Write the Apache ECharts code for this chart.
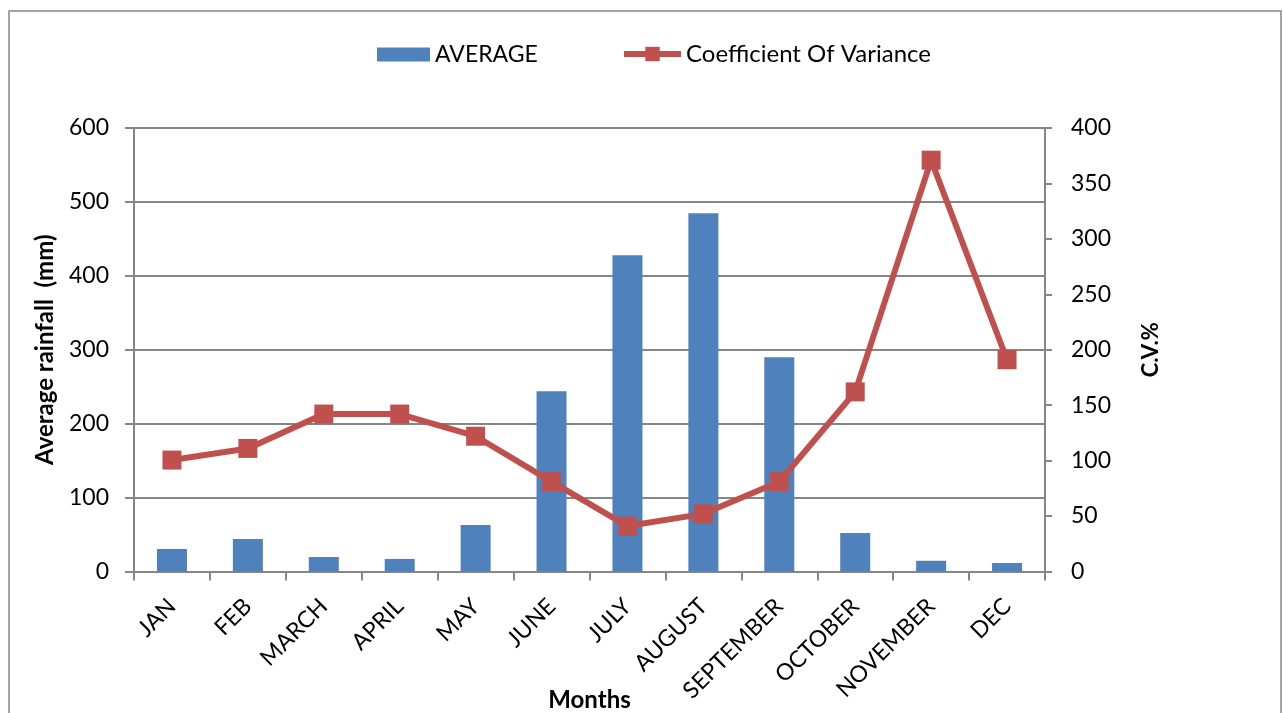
<!DOCTYPE html>
<html>
<head>
<meta charset="utf-8">
<script src="https://cdn.jsdelivr.net/npm/echarts@6/dist/echarts.min.js"></script>
<style>
  html, body { margin: 0; padding: 0; background: #fff; }
  #main { width: 1283px; height: 713px; }
</style>
</head>
<body>
<div id="main"></div>
<script>
// months on the x axis
var months = ['JAN', 'FEB', 'MARCH', 'APRIL', 'MAY', 'JUNE', 'JULY', 'AUGUST', 'SEPTEMBER', 'OCTOBER', 'NOVEMBER', 'DEC']
// average rainfall (mm), left axis
var average = [30.5, 44, 19.6, 17, 63, 244, 428, 484.5, 290, 52, 14.5, 11.5]
// coefficient of variance (%), right axis
var cv = [100.5, 111, 142, 142, 122, 81, 41, 52, 81, 162, 371, 191]

var axisGrey = '#868686'
var font = 'Lato, "Open Sans", sans-serif'

var chart = echarts.init(document.getElementById('main'))
var option = {
  backgroundColor: '#fff',
  animation: false,
  textStyle: { fontFamily: font },
  graphic: [
    {
      type: 'rect',
      shape: { x: 9, y: 11, width: 1272, height: 740 },
      style: { fill: 'none', stroke: axisGrey, lineWidth: 1.5 },
    },
  ],
  legend: [
    {
      left: 372,
      top: 38,
      itemWidth: 53,
      itemHeight: 14,
      itemGap: 6,
      icon: 'rect',
      textStyle: { fontSize: 23, color: '#000', fontFamily: font },
      data: ['AVERAGE'],
    },
    {
      left: 616,
      top: 37,
      itemWidth: 57,
      itemHeight: 18,
      lineStyle: { width: 6 },
      textStyle: { fontSize: 24, color: '#000', fontFamily: font },
      data: ['Coefficient Of Variance'],
    },
  ],
  grid: {
    left: 134,
    right: 1283 - 1045,
    top: 128,
    bottom: 713 - 571.5,
    containLabel: false,
    outerBoundsMode: 'none',
  },
  xAxis: {
    type: 'category',
    data: months,
    name: 'Months',
    nameLocation: 'middle',
    nameGap: 117,
    nameMoveOverlap: false,
    nameTextStyle: { fontSize: 24, fontWeight: 'bold', color: '#000' },
    axisLine: { lineStyle: { color: axisGrey, width: 2 } },
    axisTick: { show: true, length: 9, lineStyle: { color: axisGrey, width: 2 } },
    axisLabel: { rotate: 45, fontSize: 23, color: '#000', margin: 31, interval: 0 },
  },
  yAxis: [
    {
      type: 'value',
      min: 0,
      max: 600,
      interval: 100,
      position: 'left',
      name: 'Average rainfall  (mm)',
      nameLocation: 'middle',
      nameGap: 77,
      nameRotate: 90,
      nameTextStyle: { fontSize: 24, fontWeight: 'bold', color: '#000' },
      axisLine: { show: true, lineStyle: { color: axisGrey, width: 2 } },
      axisTick: { show: true, length: 9, lineStyle: { color: axisGrey, width: 2 } },
      axisLabel: { fontSize: 23, color: '#000', margin: 25 },
      splitLine: { show: true, lineStyle: { color: axisGrey, width: 2 } },
    },
    {
      type: 'value',
      min: 0,
      max: 400,
      interval: 50,
      position: 'right',
      name: 'C.V.%',
      nameLocation: 'middle',
      nameGap: 95,
      nameRotate: 90,
      nameTextStyle: { fontSize: 22, fontWeight: 'bold', color: '#000' },
      axisLine: { show: true, lineStyle: { color: axisGrey, width: 2 } },
      axisTick: { show: true, length: 7, lineStyle: { color: axisGrey, width: 2 } },
      axisLabel: { fontSize: 23, color: '#000', margin: 26 },
      splitLine: { show: false },
    },
  ],
  series: [
    {
      name: 'AVERAGE',
      type: 'bar',
      yAxisIndex: 0,
      barWidth: 30,
      itemStyle: { color: '#4F81BD' },
      data: average,
    },
    {
      name: 'Coefficient Of Variance',
      type: 'line',
      yAxisIndex: 1,
      symbol: 'rect',
      symbolSize: 19,
      lineStyle: { color: '#C0504D', width: 6 },
      itemStyle: { color: '#C0504D' },
      data: cv,
    },
  ],
}
chart.setOption(option)
</script>
</body>
</html>
